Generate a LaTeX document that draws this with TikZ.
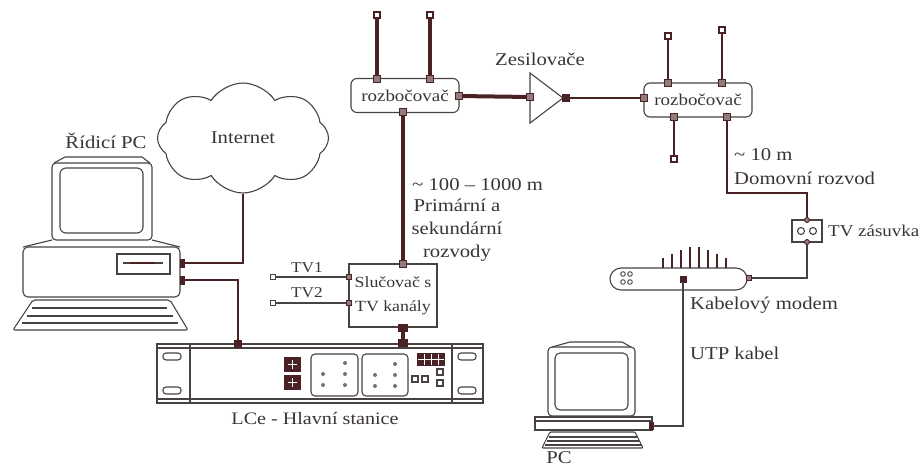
\documentclass[tikz,border=0pt]{standalone}
\usepackage{fontspec}
\setmainfont{Liberation Serif}[FakeStretch=1.15]
\usetikzlibrary{shapes.symbols}
\definecolor{cablec}{RGB}{74,34,38}
\definecolor{inkc}{RGB}{72,66,66}
\definecolor{txtc}{RGB}{58,52,52}
\definecolor{dotc}{RGB}{120,112,112}
\begin{document}
\begin{tikzpicture}[x=1pt,y=-1pt,
  every node/.style={text=txtc},
  fbig/.style={font=\fontsize{18}{22}\selectfont},
  fsmall/.style={font=\fontsize{16.5}{19}\selectfont},
  ftiny/.style={font=\fontsize{15}{18}\selectfont},
  outl/.style={draw=inkc, line width=1.1pt},
  cable/.style={draw=cablec, line width=4pt},
  medwire/.style={draw=cablec, line width=2.5pt},
  wire/.style={draw=inkc, line width=1.3pt},
  term/.style={draw=cablec, fill=cablec!60, line width=0.9pt, minimum size=7pt, inner sep=0pt, rectangle},
  darkterm/.style={term, fill=cablec},
  endterm/.style={draw=cablec, fill=white, line width=1.4pt, minimum size=6pt, inner sep=0pt, rectangle},
  openterm/.style={draw=inkc, fill=white, line width=0.9pt, minimum size=5pt, inner sep=0pt, rectangle},
  rterm/.style={draw=cablec, fill=cablec!60, line width=0.9pt, minimum size=5pt, inner sep=0pt, circle},
  splitter/.style={outl, fsmall, rounded corners=6pt, minimum width=108pt, minimum height=34pt, inner sep=0pt},
  lbl/.style={fbig, inner sep=0pt, anchor=west},
]
\useasboundingbox (0,0) rectangle (919,466);

% ---------- control PC ----------
\draw[outl, rounded corners=4pt] (52,163) rectangle (152,240);
\draw[outl] (54,163) -- (65,157) -- (142,157) -- (150,163);
\draw[outl, rounded corners=6pt] (60,168) rectangle (143,233);
\draw[outl] (52,240) -- (23,247) (152,240) -- (180,247);
\draw[outl, rounded corners=5pt] (23,247) rectangle (180,297);
\draw[outl] (117,254) rectangle (170,274);
\draw[outl] (123,263) -- (163,263);
\draw[draw=cablec, line width=2.4pt] (130,263) -- (155,263);
\draw[outl, rounded corners=2pt] (33,300) -- (170,300) -- (188,330) -- (13,330) -- cycle;
\draw[outl] (32,308) -- (167,308) (27,316) -- (173,316) (22,323) -- (178,323);
\node[fbig] (ctrllbl) at (106,141) {Řídicí PC};
\node[darkterm, minimum width=4pt, minimum height=8pt] (pcp1) at (182,263) {};
\node[darkterm, minimum width=4pt, minimum height=8pt] (pcp2) at (182,280) {};

% ---------- internet ----------
\node[cloud, draw=inkc, line width=1.1pt, cloud puffs=8, cloud puff arc=115,
      aspect=1.55, minimum width=171pt, minimum height=110pt, inner sep=0pt, fbig]
      (inet) at (243,138) {Internet};
\draw[medwire] (pcp1.east) -| (inet.south);

% ---------- head end LCe ----------
\node[outl, minimum width=326pt, minimum height=59pt, inner sep=0pt] (lce) at (320,373.5) {};
\draw[outl] (157,348) -- (483,348) (157,399) -- (483,399)
            (190,344) -- (190,403) (452,344) -- (452,403);
\foreach \x in {163,458} {
  \draw[outl, rounded corners=3pt] (\x,353) rectangle ++(18,7);
  \draw[outl, rounded corners=3pt] (\x,387) rectangle ++(18,7);
}
\draw[outl, rounded corners=4pt] (311,354) rectangle (358,396);
\draw[outl, rounded corners=4pt] (362,354) rectangle (408,396);
\foreach \p in {(323,374),(323,385),(345,363),(345,374),(345,385),
                (375,375),(375,386),(395,364),(395,375),(395,386)}
  \fill[dotc] \p circle (2pt);
\foreach \y in {357,375} {
  \fill[cablec] (284,\y) rectangle ++(17,15);
  \draw[white, line width=1.3pt] (288,\y+7.5) -- (297,\y+7.5) (292.5,\y+3) -- (292.5,\y+12);
}
\fill[cablec] (417,353) rectangle (445,366);
\draw[white, line width=1pt] (424,354) -- (424,365) (431,354) -- (431,365) (438,354) -- (438,365) (418,359.5) -- (444,359.5);
\draw[outl] (412,376) rectangle ++(6,6) (422,376) rectangle ++(6,6)
            (437,369) rectangle ++(6,6) (437,380) rectangle ++(6,6);
\node[font=\fontsize{17.5}{21}\selectfont] (lcelbl) at (315,418) {LCe - Hlavní stanice};
\node[darkterm] (lcep1) at (238,344) {};
\node[darkterm, minimum width=9pt] (lcep2) at (403,343) {};
\draw[medwire] (pcp2.east) -| (lcep1);

% ---------- channel combiner ----------
\node[outl, minimum width=88pt, minimum height=63pt, inner sep=0pt, align=center,
      font=\fontsize{15.5}{24}\selectfont] (sluc) at (393,295.5) {Slučovač s\\TV kanály};
\node[term] (sluct) at (403,264) {};
\node[darkterm, minimum width=9pt] (slucb) at (403,328) {};
\node[openterm] (tv1in) at (273,277) {};
\node[openterm] (tv2in) at (273,303) {};
\node[term, minimum size=5pt] (tv1t) at (349,277) {};
\node[term, minimum size=5pt] (tv2t) at (349,303) {};
\draw[wire] (tv1in) -- (tv1t);
\draw[wire] (tv2in) -- (tv2t);
\node[ftiny] (tv1lbl) at (307,268) {TV1};
\node[ftiny] (tv2lbl) at (307,293) {TV2};
\draw[cable] (slucb) -- (lcep2);

% ---------- first splitter ----------
\node[splitter] (sp1) at (405,95.5) {rozbočovač};
\node[term] (sp1t1) at (377,79) {};
\node[term] (sp1t2) at (430,79) {};
\node[term] (sp1r) at (459,96) {};
\node[term] (sp1b) at (403,112) {};
\node[endterm] (ant1) at (377,15) {};
\node[endterm] (ant2) at (430,15) {};
\draw[cable] (ant1) -- (sp1t1);
\draw[cable] (ant2) -- (sp1t2);
\draw[cable] (sp1b) -- (sluct);
\node[lbl] (dist1) at (412,185) {\textasciitilde{} 100 – 1000 m};
\node[fbig, align=center, font=\fontsize{18}{23}\selectfont] (dist1b) at (457,230) {Primární a\\sekundární\\rozvody};

% ---------- amplifier ----------
\draw[outl] (530,73) -- (563,98) -- (530,123) -- cycle;
\node[term] (ampin) at (530,97) {};
\node[darkterm] (ampout) at (566,98) {};
\draw[cable] (sp1r) -- (ampin);
\node[fbig] (zes) at (540,59) {Zesilovače};

% ---------- second splitter ----------
\node[splitter] (sp2) at (698,100) {rozbočovač};
\node[term] (sp2l) at (644,98) {};
\node[term] (sp2t1) at (668,83) {};
\node[term] (sp2t2) at (722,83) {};
\node[term] (sp2b1) at (674,117) {};
\node[term] (sp2b2) at (727,117) {};
\node[endterm] (ant3) at (668,36) {};
\node[endterm] (ant4) at (722,30) {};
\node[endterm] (stub) at (674,159) {};
\draw[draw=cablec, line width=1.9pt] (ampout) -- (sp2l);
\draw[medwire] (ant3) -- (sp2t1);
\draw[medwire] (ant4) -- (sp2t2);
\draw[medwire] (sp2b1) -- (stub);
\node[lbl] (dist2) at (734,155) {\textasciitilde{} 10 m};
\node[lbl] (dist2b) at (734,178) {Domovní rozvod};

% ---------- wall socket ----------
\node[outl, minimum width=30pt, minimum height=22pt, inner sep=0pt] (tv) at (807,231) {};
\draw[outl] (801,231) circle (3.5pt) (813,231) circle (3.5pt);
\node[rterm] (tvt) at (807,220) {};
\node[rterm] (tvb) at (807,242) {};
\node[fsmall, anchor=west, inner sep=0pt] (tvlbl) at (828,231) {TV zásuvka};
\coordinate (drop) at (767,193);
\draw[medwire] (sp2b2) |- (drop) -| (tvt);

% ---------- cable modem ----------
\node[outl, rounded corners=11pt, minimum width=137pt, minimum height=22pt, inner sep=0pt] (modem) at (678.5,279) {};
\foreach \x/\t in {663/258,672/254,681/250,690/247,699/247,708/250,717/254,726/258}
  \draw[draw=cablec, line width=2.2pt] (\x,268) -- (\x,\t);
\foreach \p in {(623,274),(630,274),(623,282),(630,282)}
  \draw[outl, line width=0.9pt] \p circle (2.3pt);
\node[darkterm, minimum size=6pt] (modp) at (683,279) {};
\node[term, minimum size=5pt] (modr) at (749,278) {};
\draw[wire] (tvb) |- (modr);
\node[lbl] (modlbl) at (690,305) {Kabelový modem};
\node[lbl] (utplbl) at (690,353) {UTP kabel};

% ---------- home PC ----------
\draw[outl, rounded corners=4pt] (548,347) rectangle (635,416);
\draw[outl] (552,347) -- (570,342) -- (622,342) -- (631,347);
\draw[outl, rounded corners=5pt] (555,353) rectangle (628,410);
\draw[outl] (535,417) rectangle (652,430);
\draw[outl] (535,421) -- (652,421);
\draw[outl, rounded corners=1pt] (550,432) -- (635,432) -- (643,448) -- (542,448) -- cycle;
\draw[outl] (549,437) -- (637,437) (547,441) -- (639,441) (545,445) -- (641,445);
\node[darkterm, minimum width=4pt, minimum height=7pt] (pc2p) at (651,426) {};
\draw[wire] (modp) |- (pc2p);
\node[fbig, anchor=north, inner sep=0pt] (pclbl) at (559,451) {PC};
\end{tikzpicture}
\end{document}
